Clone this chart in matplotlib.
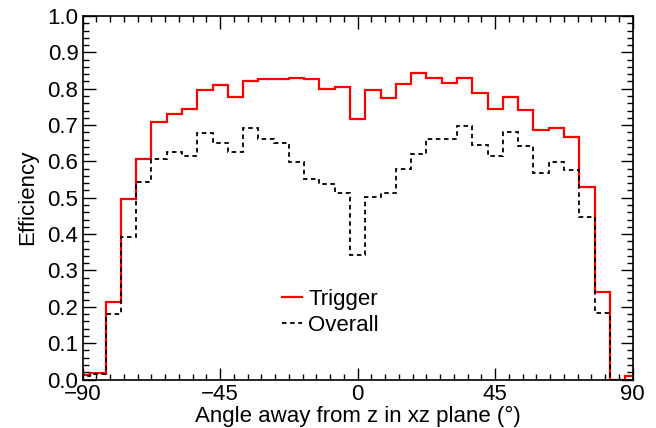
import matplotlib
matplotlib.use("Agg")
import matplotlib.pyplot as plt
import numpy as np
from matplotlib.ticker import MultipleLocator, FixedLocator

# bins centred on multiples of 5 degrees, -90 .. 90
bin_centres = np.arange(-90, 95, 5)
bin_edges = np.arange(-92.5, 97.5, 5)

trigger = [0.012, 0.018, 0.214, 0.497, 0.607, 0.708, 0.730, 0.745, 0.797, 0.811,
           0.777, 0.822, 0.827, 0.826, 0.829, 0.827, 0.799, 0.806, 0.717, 0.797,
           0.775, 0.813, 0.844, 0.829, 0.816, 0.829, 0.789, 0.744, 0.777, 0.742,
           0.686, 0.692, 0.668, 0.529, 0.240, 0.0, 0.010]
overall = [0.010, 0.015, 0.179, 0.391, 0.543, 0.607, 0.627, 0.615, 0.679, 0.650,
           0.627, 0.693, 0.661, 0.650, 0.598, 0.552, 0.537, 0.514, 0.342, 0.503,
           0.512, 0.580, 0.620, 0.661, 0.661, 0.698, 0.645, 0.615, 0.682, 0.643,
           0.567, 0.599, 0.575, 0.448, 0.182, 0.0, 0.0]

x_ticks = [-90, -45, 0, 45, 90]
x_ticklabels = ["\u221290", "\u221245", "0", "45", "90"]

plt.rcParams["font.family"] = ["Liberation Sans", "DejaVu Sans"]
FS = 16

fig = plt.figure(figsize=(6.56, 4.28), dpi=100)
ax = fig.add_axes([0.126, 0.1133, 0.8385, 0.8493])

ax.stairs(trigger, bin_edges, color="#ff0000", lw=1.6, label="Trigger")
ax.stairs(overall, bin_edges, color="black", lw=1.3, ls=(0, (2.5, 2.0)), label="Overall")

ax.set_xlim(-90, 90)
ax.set_ylim(0, 1.0)

ax.xaxis.set_major_locator(FixedLocator(x_ticks))
ax.set_xticklabels(x_ticklabels)
ax.xaxis.set_minor_locator(MultipleLocator(4.5))
ax.yaxis.set_major_locator(MultipleLocator(0.1))
ax.yaxis.set_minor_locator(MultipleLocator(0.02))
ax.yaxis.set_major_formatter(matplotlib.ticker.FormatStrFormatter("%.1f"))

ax.tick_params(which="both", direction="in", top=True, right=True, labelsize=FS,
               width=1.0, colors="black")
ax.tick_params(which="major", length=9, pad=3)
ax.tick_params(which="minor", length=4.5)
for s in ax.spines.values():
    s.set_linewidth(1.2)

ax.set_xlabel("Angle away from z in xz plane (\u00b0)", fontsize=FS, labelpad=1)
ax.set_ylabel("Efficiency", fontsize=FS, labelpad=7)

ax.legend(loc="upper left", bbox_to_anchor=(0.362, 0.25), frameon=False,
          fontsize=FS, handlelength=0.9, handletextpad=0.3, labelspacing=0.22,
          borderpad=0, borderaxespad=0)

fig.savefig("out.png", dpi=100)
